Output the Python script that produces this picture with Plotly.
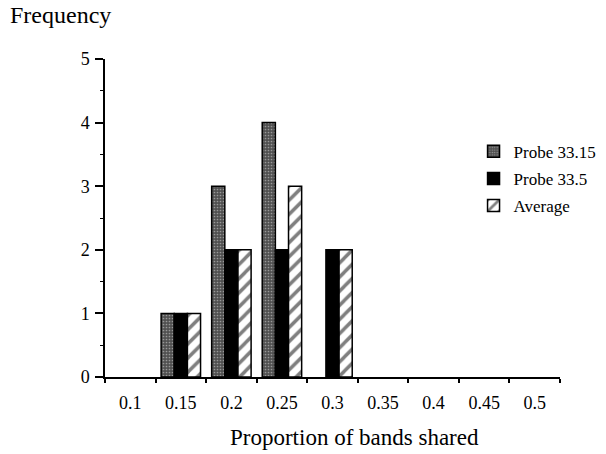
import plotly.graph_objects as go

categories = ["0.1", "0.15", "0.2", "0.25", "0.3", "0.35", "0.4", "0.45", "0.5"]
probe_33_15 = [0, 1, 3, 4, 0, 0, 0, 0, 0]
probe_33_5 = [0, 1, 2, 2, 2, 0, 0, 0, 0]
average = [0, 1, 2, 3, 2, 0, 0, 0, 0]

FONT = "Liberation Serif, Times New Roman, serif"


def nz(vals):
    return [v if v else None for v in vals]


fig = go.Figure()
fig.add_trace(go.Bar(
    x=categories, y=nz(probe_33_15), name="Probe 33.15", legendgroup="a",
    marker=dict(color="#555555", line=dict(color="black", width=1.5),
                pattern=dict(shape=".", fgcolor="#e0e0e0", bgcolor="#505050",
                             size=3, solidity=0.25)),
))
fig.add_trace(go.Bar(
    x=categories, y=nz(probe_33_5), name="Probe 33.5", legendgroup="b",
    marker=dict(color="black", line=dict(color="black", width=1.5)),
))
fig.add_trace(go.Bar(
    x=categories, y=nz(average), name="Average", legendgroup="c",
    marker=dict(color="white", line=dict(color="black", width=1.5),
                pattern=dict(shape="/", fgcolor="black", bgcolor="white",
                             size=10, solidity=0.35)),
))

fig.update_layout(
    width=606, height=454,
    margin=dict(l=105, r=46, t=59, b=77, autoexpand=False),
    paper_bgcolor="white", plot_bgcolor="white",
    barmode="group", bargap=0.22, bargroupgap=0,
    font=dict(family=FONT, size=18, color="black"),
    showlegend=True,
    legend=dict(x=0.81, y=0.765, xanchor="left", yanchor="top",
                font=dict(family=FONT, size=17), tracegroupgap=2,
                itemwidth=30, bgcolor="rgba(0,0,0,0)"),
    xaxis=dict(
        type="category", tickson="boundaries", ticks="outside", ticklen=4,
        tickwidth=1.5, tickcolor="black", showline=True, linecolor="black",
        linewidth=1.5, showgrid=False, zeroline=False, automargin=False,
        ticklabelstandoff=9, tickfont=dict(size=18),
    ),
    yaxis=dict(
        range=[0, 5], dtick=1, ticks="outside", ticklen=8, tickwidth=1.5,
        tickcolor="black", showline=True, linecolor="black", linewidth=1.5,
        showgrid=False, zeroline=False, tickfont=dict(size=18), automargin=False,
        ticklabelstandoff=2,
        minor=dict(dtick=0.5, ticks="outside", ticklen=3, tickwidth=1, tickcolor="black"),
    ),
    annotations=[
        dict(text="Frequency", xref="paper", yref="paper",
             x=-0.213, y=1.138, xanchor="left", yanchor="middle",
             showarrow=False, font=dict(family=FONT, size=24)),
        dict(text="Proportion of bands shared", xref="paper", yref="paper",
             x=0.549, y=-0.189, xanchor="center", yanchor="middle",
             showarrow=False, font=dict(family=FONT, size=23)),
    ],
)

fig.write_html("out.html", post_script="document.body.style.margin='0';",
               config={"displayModeBar": False})
